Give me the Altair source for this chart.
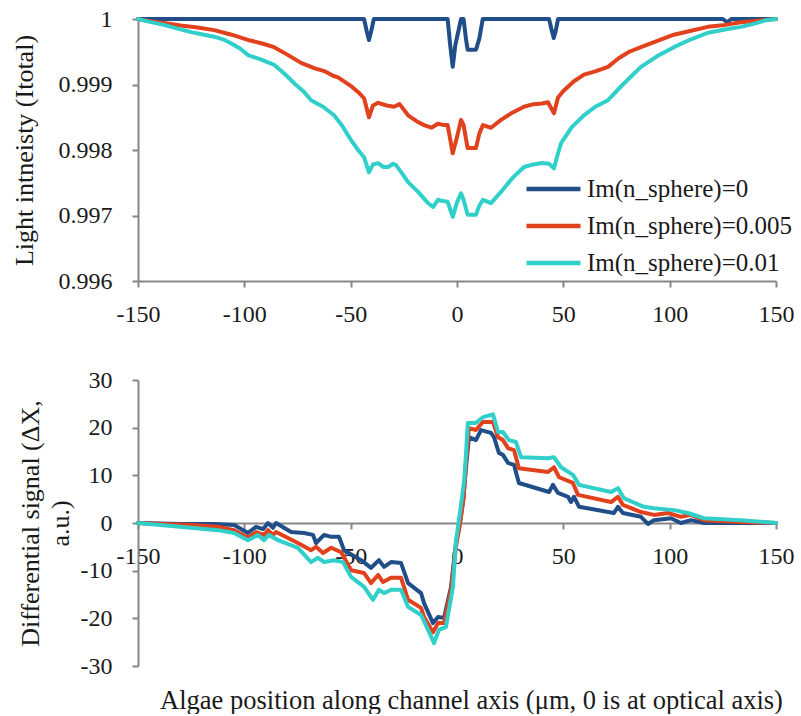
import altair as alt
import pandas as pd

SERIES = ["Im(n_sphere)=0", "Im(n_sphere)=0.005", "Im(n_sphere)=0.01"]
COLORS = ["#1F4E89", "#E1411D", "#30CFC9"]
X_TICKS = [-150, -100, -50, 0, 50, 100, 150]
TOP_Y_TICKS = [0.996, 0.997, 0.998, 0.999, 1.0]
BOT_Y_TICKS = [-30, -20, -10, 0, 10, 20, 30]

# ---- top panel: light intensity ----
top0_x = [-150, -43.7, -42.5, -41.4, -40.3, -39.1, -4.4, -3.2, -2.0, -0.8, 1.9,
          3.1, 4.2, 5.0, 8.9, 10.5, 12.1, 43.3, 44.5, 45.5, 46.5, 47.5, 125, 127, 129, 150]
top0_y = [1.0, 1.0, 0.99982, 0.99968, 0.99982, 1.0, 1.0, 0.99960, 0.99927, 0.99960, 1.0,
          1.0, 0.99970, 0.99953, 0.99953, 0.99970, 1.0, 1.0, 0.99983, 0.99971, 0.99983, 1.0, 1.0, 0.99995, 1.0, 1.0]

top1_x = [-150, -145, -137.8, -130, -122, -114.2, -106, -98.3, -92, -86, -80, -73.3, -67.2,
          -62, -58, -55.9, -50, -46, -43.7, -41.4, -39.5, -37.1, -33, -29.6, -27, -23, -19,
          -15.5, -12, -9, -6.1, -4.4, -2.0, 0, 1.9, 3.1, 5.0, 8.9, 10.5, 12.2, 16, 20.7, 26,
          31.5, 36, 40, 42.8, 45.6, 47.5, 50, 55, 59.7, 65, 71, 76, 81, 86.5, 93, 102, 110,
          118, 126, 133.5, 140, 150]
top1_y = [1.0, 0.99997, 0.99994, 0.99990, 0.99987, 0.99983, 0.99976, 0.99968, 0.99963,
          0.99957, 0.99946, 0.99933, 0.99925, 0.99920, 0.99913, 0.99911, 0.99898, 0.99887,
          0.99879, 0.99850, 0.99868, 0.99872, 0.99868, 0.99866, 0.99870, 0.99853, 0.99844,
          0.99838, 0.99834, 0.99840, 0.99838, 0.99838, 0.99795, 0.99820, 0.99846, 0.99838,
          0.99803, 0.99803, 0.99825, 0.99838, 0.99834, 0.99846, 0.99857, 0.99866, 0.99870,
          0.99871, 0.99873, 0.99856, 0.99880, 0.99890, 0.99905, 0.99915, 0.99920, 0.99927,
          0.99940, 0.99950, 0.99957, 0.99965, 0.99976, 0.99982, 0.99988, 0.99991, 0.99995,
          0.99997, 1.0]

top2_x = [-150, -145, -137.8, -131, -125, -119, -114.2, -110, -106.3, -102, -98.3, -92, -86,
          -81, -76.6, -72, -68.6, -63, -57.8, -54, -49.8, -46.5, -43.7, -41.4, -39.5, -37.1,
          -34.5, -32.4, -30, -28.7, -26, -23, -18.3, -13.6, -11.3, -8.9, -6.5, -4.4, -2.0, 0,
          1.9, 3.1, 5.0, 8.9, 10.5, 12.2, 16, 20.7, 26, 31.5, 36, 40, 43.3, 45.6, 47.5, 49,
          54, 59.7, 65, 71, 78, 86.5, 94, 102, 110, 118, 126, 133.5, 140, 145, 150]
top2_y = [1.0, 0.99996, 0.99991, 0.99985, 0.99980, 0.99976, 0.99973, 0.99969, 0.99963,
          0.99955, 0.99945, 0.99938, 0.99930, 0.99916, 0.99902, 0.99889, 0.99876, 0.99866,
          0.99853, 0.99837, 0.99815, 0.99800, 0.99789, 0.99766, 0.99778, 0.99780, 0.99774,
          0.99774, 0.99779, 0.99777, 0.99765, 0.99751, 0.99736, 0.99719, 0.99713, 0.99724,
          0.99722, 0.99721, 0.99698, 0.99720, 0.99734, 0.99724, 0.99701, 0.99701, 0.99715,
          0.99724, 0.99719, 0.99736, 0.99757, 0.99774, 0.99778, 0.99780, 0.99779, 0.99772,
          0.99795, 0.99811, 0.99835, 0.99853, 0.99866, 0.99876, 0.99900, 0.99927, 0.99943,
          0.99957, 0.99969, 0.99979, 0.99984, 0.99988, 0.99993, 0.99998, 1.0]

# ---- bottom panel: differential signal ----
bot0_x = [-150, -129.8, -114.2, -104.8, -98.3, -94.5, -91.2, -88.9, -86.5, -85.1, -78.0,
          -71.9, -67.7, -66.3, -62.5, -59.2, -55.5, -53.1, -45.1, -40.4, -36.7, -34.3, -31.0,
          -26.3, -23.0, -16.9, -15.5, -11.3, -8.9, -6.1, -2.8, -0.5, 1.5, 3.0, 4.3, 5.6, 8.9,
          11.3, 16.0, 17.4, 19.7, 21.6, 24.0, 26.8, 29.1, 43.3, 45.1, 47.5, 52.2, 53.6, 55.0,
          57.4, 73.8, 75.7, 78.0, 86.5, 89.8, 92.6, 100.6, 105.3, 110.0, 116.1, 133.5, 150]
bot0_y = [0, -0.2, -0.2, -0.4, -2.1, -0.8, -1.3, 0, -1.0, 0, -1.9, -2.1, -2.5, -4.2, -2.5,
          -2.9, -2.9, -5.7, -7.8, -9.4, -7.8, -9.2, -8.2, -8.4, -12.6, -14.7, -16.8, -21.0,
          -19.7, -19.9, -13.4, -4.2, 0.5, 5.0, 12.0, 18.0, 17.4, 19.5, 18.9, 18.0, 14.7, 14.3,
          12.6, 12.2, 8.4, 6.5, 8.0, 6.3, 5.5, 4.4, 5.5, 3.4, 2.1, 3.4, 2.1, 1.3, -0.2, 0.6,
          1.0, 0, 0.6, 0, 0, 0]

bot1_x = [-150, -125.1, -112.4, -104.8, -98.3, -94.5, -90.7, -88.9, -86.5, -85.1, -74.8,
          -68.6, -66.3, -63.0, -59.2, -54.5, -49.8, -43.7, -40.4, -37.1, -34.8, -31.0, -26.3,
          -23.0, -16.9, -15.5, -11.3, -8.9, -6.1, -2.8, -0.5, 1.5, 3.0, 4.3, 5.6, 8.9, 12.2,
          16.9, 19.3, 21.6, 24.0, 26.8, 29.1, 42.8, 45.6, 48.0, 54.5, 56.9, 72.4, 75.7, 78.0,
          86.5, 92.6, 99.2, 105.3, 110.0, 116.1, 133.5, 150]
bot1_y = [0, -0.4, -0.8, -1.5, -3.1, -1.9, -2.5, -1.5, -2.5, -1.9, -4.2, -5.7, -5.0, -6.3,
          -5.2, -6.1, -9.9, -10.5, -12.6, -10.9, -12.4, -11.5, -11.5, -16.1, -17.8, -19.7,
          -22.9, -21.0, -21.0, -14.0, -5.0, 0, 5.0, 13.0, 19.9, 19.5, 21.2, 21.2, 18.0, 17.4,
          15.7, 15.3, 11.5, 10.7, 11.7, 9.6, 8.4, 5.9, 4.4, 5.5, 3.8, 2.3, 1.7, 2.1, 1.3, 1.7,
          0.6, 0.2, 0]

bot2_x = [-150, -125.1, -112.4, -104.8, -98.3, -93.6, -90.7, -88.4, -84.2, -74.8, -68.6,
          -65.4, -62.5, -57.8, -53.6, -49.8, -43.7, -39.5, -36.7, -34.3, -31.0, -26.3, -23.0,
          -16.9, -13.6, -10.8, -8.5, -5.2, -1.9, -0.5, 1.5, 3.4, 4.3, 5.1, 8.9, 12.2, 16.9,
          19.3, 21.6, 24.4, 27.7, 30.1, 42.8, 45.6, 48.9, 54.5, 57.4, 72.4, 75.7, 78.5, 87.9,
          92.6, 102.0, 108.6, 116.1, 133.5, 150]
bot2_y = [0, -1.0, -1.5, -2.1, -3.6, -2.5, -3.6, -2.5, -3.6, -5.2, -8.2, -7.3, -8.2, -7.8,
          -8.2, -11.3, -13.4, -16.1, -14.0, -14.7, -14.0, -14.0, -17.6, -19.3, -22.4, -25.2,
          -22.4, -21.8, -13.4, -4.0, 2.5, 9.0, 15.0, 21.0, 21.0, 22.2, 22.8, 19.1, 19.1, 17.4,
          17.0, 13.8, 13.6, 13.8, 11.7, 10.1, 8.0, 6.5, 7.3, 5.2, 3.4, 3.1, 2.7, 2.1, 1.0, 0.6, 0]


def frame(xs, ys, name):
    return pd.DataFrame({"x": xs, "y": ys, "series": name})


top_df = pd.concat([frame(top0_x, top0_y, SERIES[0]),
                    frame(top1_x, top1_y, SERIES[1]),
                    frame(top2_x, top2_y, SERIES[2])], ignore_index=True)
bot_df = pd.concat([frame(bot0_x, bot0_y, SERIES[0]),
                    frame(bot1_x, bot1_y, SERIES[1]),
                    frame(bot2_x, bot2_y, SERIES[2])], ignore_index=True)

FONT = "Liberation Serif"
TXT = "#1a1a1a"
PLAIN = "'' + datum.value"
line_kw = dict(strokeWidth=4, strokeJoin="round", strokeCap="round")
xscale = alt.Scale(domain=[-150, 150], nice=False)

top = alt.Chart(top_df).mark_line(**line_kw).encode(
    x=alt.X("x:Q", scale=xscale,
            axis=alt.Axis(values=X_TICKS, title=None, labelExpr=PLAIN, labelPadding=15,
                          labelFlush=False, labelOverlap=False)),
    y=alt.Y("y:Q", scale=alt.Scale(domain=[0.996, 1.0], nice=False, zero=False),
            axis=alt.Axis(values=TOP_Y_TICKS, labelExpr=PLAIN, title="Light intneisty (Itotal)",
                          titlePadding=21, labelPadding=20)),
    color=alt.Color("series:N", scale=alt.Scale(domain=SERIES, range=COLORS),
                    legend=alt.Legend(title=None, orient="none", legendX=386, legendY=151.5,
                                      symbolType="stroke", symbolSize=2916,
                                      symbolStrokeWidth=4.5, labelFontSize=25,
                                      labelFont=FONT, labelColor=TXT, labelOffset=4,
                                      labelLimit=0, clipHeight=37, rowPadding=0, padding=0)),
).properties(width=638, height=262)

bottom = alt.Chart(bot_df).mark_line(**line_kw).encode(
    x=alt.X("x:Q", scale=xscale,
            axis=alt.Axis(values=X_TICKS, labelExpr=PLAIN, offset=-143, labelPadding=15,
                          labelFlush=False, labelOverlap=False,
                          title="Algae position along channel axis (μm, 0 is at optical axis)",
                          titlePadding=119, titleX=333, titleFontSize=26.5)),
    y=alt.Y("y:Q", scale=alt.Scale(domain=[-30, 30], nice=False),
            axis=alt.Axis(values=BOT_Y_TICKS, labelExpr=PLAIN,
                          title=["Differential signal (ΔX,", "a.u.)"],
                          titlePadding=7, labelPadding=20, titleLineHeight=30)),
    color=alt.Color("series:N", scale=alt.Scale(domain=SERIES, range=COLORS), legend=None),
).properties(width=638, height=286)

chart = alt.vconcat(top, bottom, spacing=42).resolve_scale(color="independent").properties(
    padding={"left": 11, "top": 7, "right": 0, "bottom": 0}
).configure(font=FONT).configure_view(stroke=None).configure_axis(
    grid=False, domainColor="#878787", domainWidth=2, tickColor="#878787", tickWidth=2,
    tickSize=6, labelFont=FONT, labelFontSize=24, labelColor=TXT, titleFont=FONT,
    titleFontSize=26, titleFontWeight="normal", titleColor=TXT)

chart.save("out.html", embed_options={"renderer": "svg", "actions": False})
